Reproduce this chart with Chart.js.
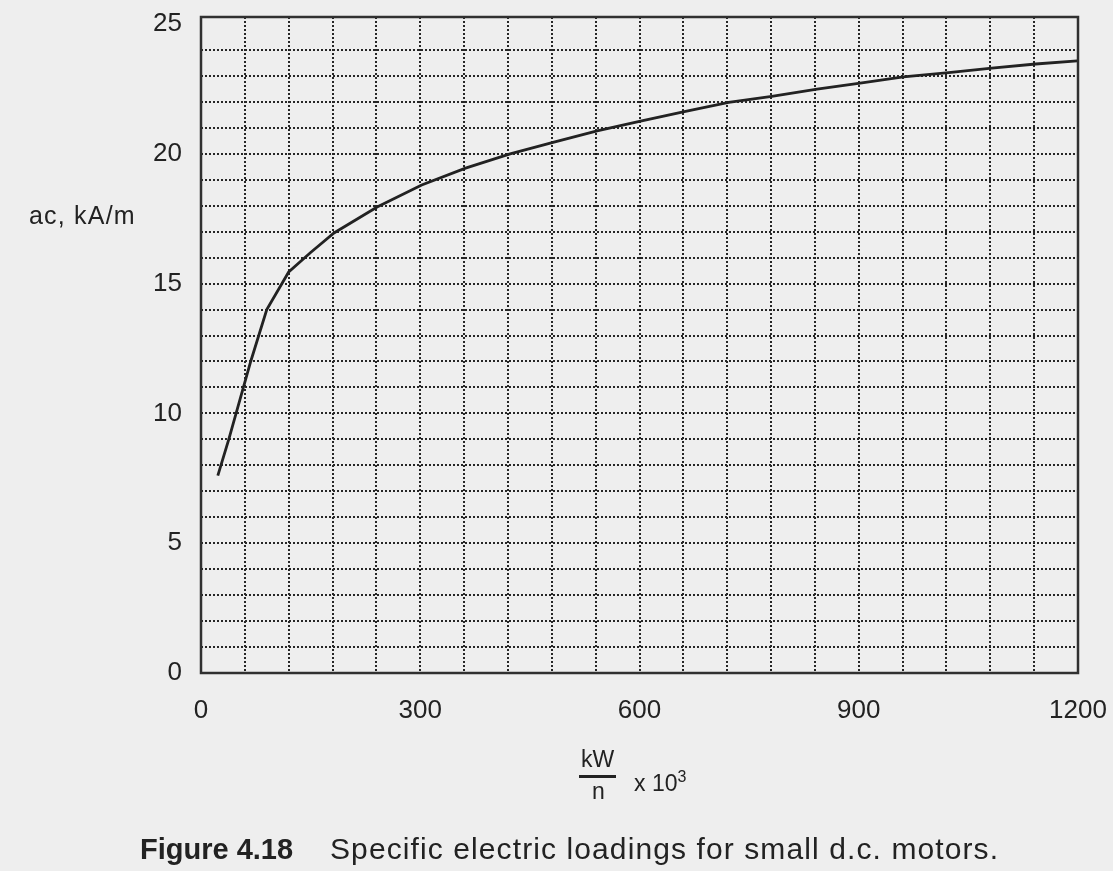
<!DOCTYPE html>
<html>
<head>
<meta charset="utf-8">
<title>Figure 4.18</title>
<script src="https://cdn.jsdelivr.net/npm/chart.js@4/dist/chart.umd.min.js"></script>
<style>
    html, body { margin: 0; padding: 0; background: #eeeeee; }
    #wrap { position: relative; width: 1113px; height: 871px; font-family: "Liberation Sans", Arial, sans-serif; color: #222; }
    #chart { position: absolute; left: 0; top: 0; }
    .lbl { position: absolute; white-space: nowrap; line-height: normal; }
    .bar { position: absolute; background: #222; }
</style>
</head>
<body>
<div id="wrap">
    <canvas id="chart" width="1113" height="871"></canvas>
    <div class="lbl" style="left:29px; top:201px; font-size:25px; letter-spacing:1.2px;">ac, kA/m</div>
    <div class="lbl" style="left:581px; top:746px; font-size:23px;">kW</div>
    <div class="bar" style="left:579px; top:775px; width:37px; height:3px;"></div>
    <div class="lbl" style="left:592px; top:778px; font-size:23px;">n</div>
    <div class="lbl" style="left:634px; top:768px; font-size:23px;">x 10<sup style="font-size:16px;">3</sup></div>
    <div class="lbl" style="left:140px; top:833px; font-size:29px;"><b>Figure 4.18</b></div>
    <div class="lbl" style="left:330px; top:832px; font-size:30px; letter-spacing:1.1px;">Specific electric loadings for small d.c. motors.</div>
</div>
<script>
// valeurs
const xValues = [23, 38, 58, 68, 90, 120, 150, 182, 241, 302, 362, 423, 483, 542, 603, 663, 722, 781, 843, 902, 961, 1023, 1082, 1142, 1199];
const yValues = [7.6, 9.0, 11.0, 12.0, 14.0, 15.45, 16.2, 16.95, 17.95, 18.8, 19.45, 20.0, 20.45, 20.88, 21.27, 21.63, 21.98, 22.21, 22.49, 22.72, 22.96, 23.13, 23.3, 23.46, 23.58];

// graduations
const xLabels = [0, 300, 600, 900, 1200];
const yLabels = [0, 5, 10, 15, 20, 25];

const gridColor = '#262626';
const tickFont = { family: 'Liberation Sans', size: 26 };

// cadre autour de la zone de tracé
const framePlugin = {
    id: 'frame',
    afterDraw(chart) {
        const { ctx, chartArea: a } = chart;
        ctx.save();
        ctx.strokeStyle = '#303030';
        ctx.lineWidth = 2.5;
        ctx.strokeRect(a.left, a.top, a.right - a.left, a.bottom - a.top);
        ctx.restore();
    }
};

new Chart(document.getElementById('chart'), {
    type: 'scatter',
    data: {
        datasets: [{
            data: xValues.map((x, i) => ({ x: x, y: yValues[i] })),
            showLine: true,
            borderColor: '#222',
            borderWidth: 2.8,
            pointRadius: 0,
            tension: 0
        }]
    },
    options: {
        responsive: false,
        animation: false,
        layout: { padding: { left: 0, top: 17, right: 35, bottom: 138 } },
        plugins: {
            legend: { display: false },
            tooltip: { enabled: false }
        },
        scales: {
            x: {
                type: 'linear',
                min: 0,
                max: 1200,
                afterFit: s => {
                    s.height = 60;
                    s.paddingLeft = 0;
                    s.paddingRight = 0;
                },
                border: { display: false, dash: [2, 2] },
                grid: { color: gridColor, lineWidth: 2, drawTicks: false },
                ticks: {
                    stepSize: 60,
                    padding: 22,
                    maxRotation: 0,
                    autoSkip: false,
                    color: '#222',
                    font: tickFont,
                    callback: v => xLabels.includes(v) ? v : ''
                }
            },
            y: {
                min: 0,
                max: 25.27,
                afterFit: s => {
                    s.width = 201;
                    s.paddingTop = 0;
                    s.paddingBottom = 0;
                },
                border: { display: false, dash: [2, 2] },
                grid: {
                    color: ctx => (ctx.tick && ctx.tick.value === 25) ? 'rgba(0,0,0,0)' : gridColor,
                    lineWidth: 2,
                    drawTicks: false
                },
                ticks: {
                    stepSize: 1,
                    includeBounds: false,
                    padding: 19,
                    autoSkip: false,
                    color: '#222',
                    font: tickFont,
                    callback: v => yLabels.includes(v) ? v : ''
                }
            }
        }
    },
    plugins: [framePlugin]
});
</script>
</body>
</html>
